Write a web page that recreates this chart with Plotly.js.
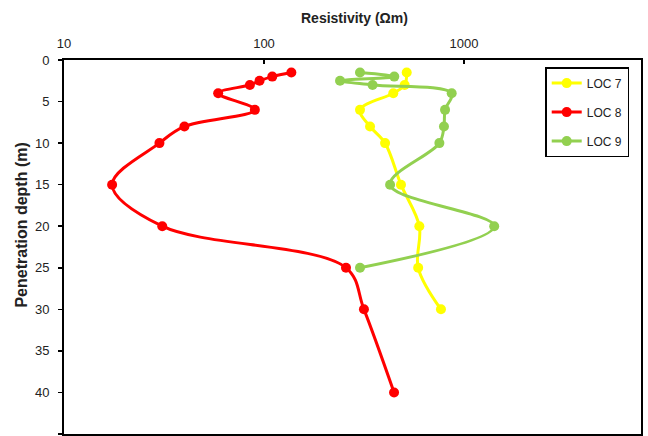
<!DOCTYPE html>
<html>
<head>
<meta charset="utf-8">
<script src="https://cdn.plot.ly/plotly-3.0.1.min.js"></script>
<style>html,body{margin:0;padding:0;background:#fff;}#chart{width:648px;height:436px;}</style>
</head>
<body>
<div id="chart"></div>
<script>
// LOC 7
const loc7Depth = [1.5, 3, 4, 6, 8, 10, 15, 20, 25, 30];
const loc7Res   = [517, 505, 443, 302, 339, 403, 484, 598, 590, 767];
// LOC 8
const loc8Depth = [1.5, 2, 2.5, 3, 4, 6, 8, 10, 15, 20, 25, 30, 40];
const loc8Res   = [137, 110, 95, 85, 59, 90, 40, 30, 17.4, 31, 257, 316, 447];
// LOC 9
const loc9Depth = [1.5, 2, 2.5, 3, 4, 6, 8, 10, 15, 20, 25];
const loc9Res   = [302, 448, 240, 349, 868, 804, 794, 753, 427, 1416, 302];

const seriesNames = ['LOC 7', 'LOC 8', 'LOC 9'];
const seriesColors = ['#FFFF00', '#FF0000', '#92D050'];
const depths = [loc7Depth, loc8Depth, loc9Depth];
const ress = [loc7Res, loc8Res, loc9Res];

const xTickVals = [10, 100, 1000];
const xTickText = ['10', '100', '1000'];
const yTickVals = [0, 5, 10, 15, 20, 25, 30, 35, 40, 45];

const FONT = 'Liberation Sans, Arial, sans-serif';

const traces = seriesNames.map((n, i) => ({
  type: 'scatter',
  mode: 'lines+markers',
  name: n,
  legendgroup: 'g' + i,
  x: ress[i],
  y: depths[i],
  line: {color: seriesColors[i], width: 3, shape: 'spline', smoothing: 1},
  marker: {color: seriesColors[i], size: 10, symbol: 'circle'}
}));

const layout = {
  width: 648, height: 436,
  margin: {l: 64, r: 7, t: 60, b: 2, pad: 0},
  paper_bgcolor: '#ffffff',
  plot_bgcolor: '#ffffff',
  font: {family: FONT, size: 12, color: '#222'},
  showlegend: true,
  legend: {
    x: 0.834, y: 0.981, xanchor: 'left', yanchor: 'top',
    bordercolor: '#000', borderwidth: 1.5, bgcolor: '#fff',
    font: {family: FONT, size: 12, color: '#222'},
    traceorder: 'grouped', tracegroupgap: 10,
    itemwidth: 30
  },
  xaxis: {
    type: 'log', side: 'top',
    range: [1, 3.885],
    tickvals: xTickVals,
    ticktext: xTickText,
    ticks: 'inside', ticklen: 4, tickwidth: 1.5, tickcolor: '#000',
    ticklabelstandoff: 5,
    showgrid: false, zeroline: false,
    showline: true, linecolor: '#000', linewidth: 2, mirror: true,
    tickfont: {family: FONT, size: 13, color: '#222'}
  },
  yaxis: {
    range: [45, 0],
    tickvals: yTickVals,
    ticks: 'outside', ticklen: 4, tickwidth: 1.5, tickcolor: '#000',
    ticklabelstandoff: 6,
    showgrid: false, zeroline: false,
    showline: true, linecolor: '#000', linewidth: 2, mirror: true,
    tickfont: {family: FONT, size: 13, color: '#222'}
  },
  annotations: [
    {text: '<b>Resistivity (Ωm)</b>', xref: 'paper', yref: 'paper', x: 0.503, y: 1.112,
     xanchor: 'center', yanchor: 'middle', showarrow: false,
     font: {family: FONT, size: 14, color: '#222'}},
    {text: '<b>Penetration depth (m)</b>', xref: 'paper', yref: 'paper', x: -0.0728, y: 0.56,
     xanchor: 'center', yanchor: 'middle', showarrow: false, textangle: -90,
     font: {family: FONT, size: 16, color: '#222'}}
  ]
};

Plotly.newPlot('chart', traces, layout, {displayModeBar: false, staticPlot: true});
</script>
</body>
</html>
